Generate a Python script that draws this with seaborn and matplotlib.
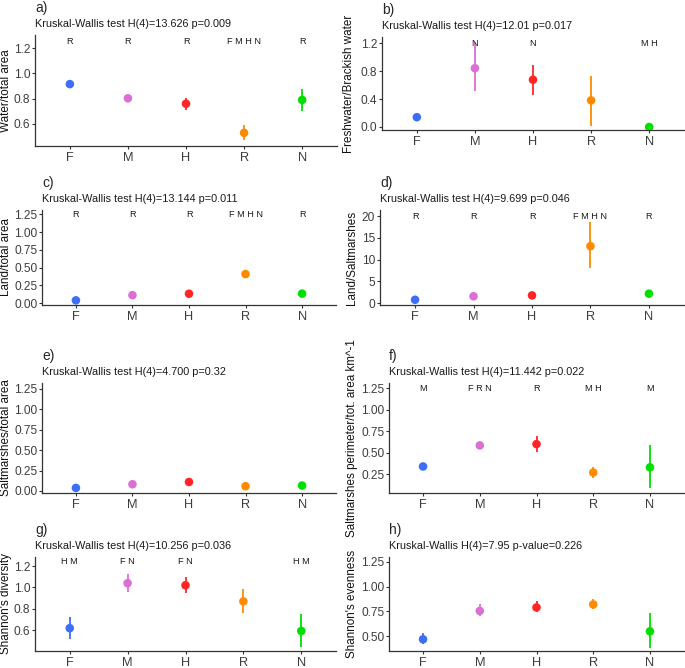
import numpy as np
import pandas as pd
import seaborn as sns
import matplotlib.pyplot as plt

sns.set_style('ticks')
plt.rcParams['font.family'] = ['Liberation Sans', 'DejaVu Sans']

sites = ['F', 'M', 'H', 'R', 'N']
site_colors = ['#3d6ef7', '#da70d6', '#ff2525', '#ff8a00', '#00e000']

# a) water / total area
water_mean = [0.915, 0.803, 0.76, 0.53, 0.79]
water_lo = [0.90, 0.795, 0.71, 0.475, 0.705]
water_hi = [0.93, 0.815, 0.805, 0.59, 0.875]
water_letters = ['R', 'R', 'R', 'F M H N', 'R']

# b) freshwater / brackish water
fresh_mean = [0.14, 0.84, 0.675, 0.38, 0.0]
fresh_lo = [0.08, 0.51, 0.46, 0.02, 0.0]
fresh_hi = [0.20, 1.22, 0.89, 0.73, 0.0]
fresh_letters = ['', 'N', 'N', '', 'M H']

# c) land / total area
land_mean = [0.04, 0.113, 0.133, 0.41, 0.135]
land_lo = [0.03, 0.105, 0.12, 0.35, 0.09]
land_hi = [0.05, 0.125, 0.15, 0.47, 0.19]
land_letters = ['R', 'R', 'R', 'F M H N', 'R']

# d) land / saltmarshes
landsalt_mean = [0.8, 1.6, 1.8, 13.1, 2.2]
landsalt_lo = [0.5, 1.3, 1.4, 8.0, 1.5]
landsalt_hi = [1.0, 1.8, 2.1, 18.6, 3.1]
landsalt_letters = ['R', 'R', 'R', 'F M H N', 'R']

# e) saltmarshes / total area
salt_mean = [0.037, 0.082, 0.11, 0.058, 0.066]
salt_lo = [0.03, 0.075, 0.10, 0.05, 0.058]
salt_hi = [0.045, 0.09, 0.12, 0.066, 0.074]
salt_letters = ['', '', '', '', '']

# f) saltmarshes perimeter / total area
perim_mean = [0.34, 0.585, 0.6, 0.27, 0.33]
perim_lo = [0.325, 0.57, 0.51, 0.21, 0.09]
perim_hi = [0.355, 0.60, 0.70, 0.335, 0.59]
perim_letters = ['M', 'F R N', 'R', 'M H', 'M']

# g) Shannon's diversity
shan_mean = [0.62, 1.04, 1.02, 0.87, 0.594]
shan_lo = [0.52, 0.96, 0.945, 0.76, 0.44]
shan_hi = [0.725, 1.13, 1.10, 0.99, 0.75]
shan_letters = ['H M', 'F N', 'F N', '', 'H M']

# h) Shannon's evenness
even_mean = [0.47, 0.755, 0.79, 0.82, 0.55]
even_lo = [0.425, 0.70, 0.745, 0.775, 0.385]
even_hi = [0.535, 0.825, 0.85, 0.875, 0.735]
even_letters = ['', '', '', '', '']

panels = [
    dict(tag='a)', title='Kruskal-Wallis test H(4)=13.626 p=0.009', ylabel='Water/total area',
         mean=water_mean, lo=water_lo, hi=water_hi, letters=water_letters, ly=1.25,
         ylim=(0.426, 1.303), yticks=[0.6, 0.8, 1.0, 1.2], fmt='{:.1f}',
         box=(35, 35, 337, 146), labx=12),
    dict(tag='b)', title='Kruskal-Wallis test H(4)=12.01 p=0.017', ylabel='Freshwater/Brackish water',
         mean=fresh_mean, lo=fresh_lo, hi=fresh_hi, letters=fresh_letters, ly=1.2,
         ylim=(-0.043, 1.286), yticks=[0.0, 0.4, 0.8, 1.2], fmt='{:.1f}',
         box=(382, 37, 684, 130), labx=355),
    dict(tag='c)', title='Kruskal-Wallis test H(4)=13.144 p=0.011', ylabel='Land/total area',
         mean=land_mean, lo=land_lo, hi=land_hi, letters=land_letters, ly=1.25,
         ylim=(-0.025, 1.31), yticks=[0, 0.25, 0.5, 0.75, 1.0, 1.25], fmt='{:.2f}',
         box=(42, 210, 336, 305), labx=12),
    dict(tag='d)', title='Kruskal-Wallis test H(4)=9.699 p=0.046', ylabel='Land/Saltmarshes',
         mean=landsalt_mean, lo=landsalt_lo, hi=landsalt_hi, letters=landsalt_letters, ly=20,
         ylim=(-0.4, 21.4), yticks=[0, 5, 10, 15, 20], fmt='{:.0f}',
         box=(380, 210, 684, 305), labx=358),
    dict(tag='e)', title='Kruskal-Wallis test H(4)=4.700 p=0.32', ylabel='Saltmarshes/total area',
         mean=salt_mean, lo=salt_lo, hi=salt_hi, letters=salt_letters, ly=1.25,
         ylim=(-0.025, 1.32), yticks=[0, 0.25, 0.5, 0.75, 1.0, 1.25], fmt='{:.2f}',
         box=(42, 383, 336, 493), labx=12),
    dict(tag='f)', title='Kruskal-Wallis test H(4)=11.442 p=0.022',
         ylabel='Saltmarshes perimeter/tot. area km^-1',
         mean=perim_mean, lo=perim_lo, hi=perim_hi, letters=perim_letters, ly=1.25,
         ylim=(0.032, 1.31), yticks=[0.25, 0.5, 0.75, 1.0, 1.25], fmt='{:.2f}',
         box=(389, 383, 684, 493), labx=358),
    dict(tag='g)', title='Kruskal-Wallis test H(4)=10.256 p=0.036', ylabel="Shannon's diversity",
         mean=shan_mean, lo=shan_lo, hi=shan_hi, letters=shan_letters, ly=1.24,
         ylim=(0.407, 1.284), yticks=[0.6, 0.8, 1.0, 1.2], fmt='{:.1f}',
         box=(35, 557, 336, 651), labx=12),
    dict(tag='h)', title='Kruskal-Wallis H(4)=7.95 p-value=0.226', ylabel="Shannon's evenness",
         mean=even_mean, lo=even_lo, hi=even_hi, letters=even_letters, ly=1.25,
         ylim=(0.352, 1.297), yticks=[0.5, 0.75, 1.0, 1.25], fmt='{:.2f}',
         box=(389, 557, 684, 651), labx=358),
]

W, H = 685, 668
fig = plt.figure(figsize=(W / 100, H / 100), dpi=100)
palette = dict(zip(sites, site_colors))

for p in panels:
    l, t, r, b = p['box']
    ax = fig.add_axes([l / W, 1 - b / H, (r - l) / W, (b - t) / H])
    df = pd.DataFrame({'site': sites, 'mean': p['mean'], 'lo': p['lo'], 'hi': p['hi']})

    sns.scatterplot(data=df, x='site', y='mean', hue='site', palette=palette,
                    s=38, linewidth=0, legend=False, zorder=3, ax=ax)
    ax.vlines(df['site'], df['lo'], df['hi'], colors=site_colors, lw=1.3, zorder=2)

    for i, txt in enumerate(p['letters']):
        if txt:
            ax.text(i, p['ly'], txt, ha='center', va='center', fontsize=6.6, color='#1a1a1a')

    ax.set_xlim(-0.6, 4.6)
    ax.set_ylim(*p['ylim'])
    ax.set_yticks(p['yticks'])
    ax.set_yticklabels([p['fmt'].format(v) for v in p['yticks']])
    ax.set_xlabel('')
    ax.set_ylabel(p['ylabel'], fontsize=8.4, color='#111111')
    ax.yaxis.set_label_coords((p['labx'] - l) / (r - l), 0.5)

    sns.despine(ax=ax)
    for s in ['left', 'bottom']:
        ax.spines[s].set_color('#333333')
        ax.spines[s].set_linewidth(0.9)
    ax.tick_params(axis='y', length=2.5, width=0.8, pad=1, labelsize=8.6, colors='#333333',
                   labelcolor='#3d3d3d')
    ax.tick_params(axis='x', length=2.5, width=0.8, pad=2, labelsize=9.2, colors='#333333',
                   labelcolor='#3d3d3d')

    fig.text(l / W, 1 - (t - 27) / H, p['tag'], fontsize=10, ha='left', va='center')
    fig.text(l / W, 1 - (t - 11) / H, p['title'], fontsize=7.8, ha='left', va='center',
             color='#1a1a1a')

fig.savefig('out.png', dpi=100)
